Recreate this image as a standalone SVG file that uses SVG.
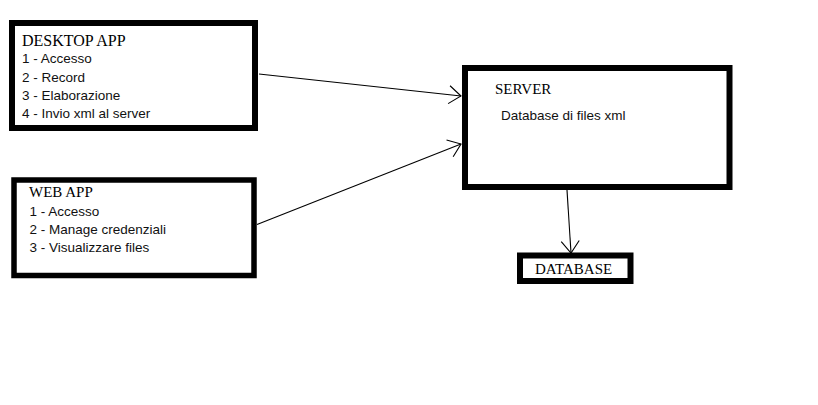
<svg xmlns="http://www.w3.org/2000/svg" width="818" height="405" viewBox="0 0 818 405">
<style>
.box{fill:#fff;stroke:#000;stroke-width:6}
.title{font-family:"Liberation Serif","Times New Roman",serif;font-size:15px;fill:#000}
.item{font-family:"Liberation Sans",Arial,sans-serif;font-size:13.5px;fill:#111}
.conn{stroke:#000;stroke-width:1.1;fill:none}
</style>
<defs>
<marker id="arr" markerUnits="userSpaceOnUse" viewBox="-14 -11 16 22" refX="0" refY="0" markerWidth="16" markerHeight="22" orient="auto">
<path d="M-12,-9 L0,0 L-12,9" fill="none" stroke="#000" stroke-width="1.1"/>
</marker>
</defs>
<rect width="818" height="405" fill="#fff"/>
<g id="connectors">
<line class="conn" x1="259" y1="74" x2="461" y2="96" marker-end="url(#arr)"/>
<line class="conn" x1="257" y1="224.5" x2="461" y2="144" marker-end="url(#arr)"/>
<line class="conn" x1="567" y1="190" x2="571" y2="253" marker-end="url(#arr)"/>
</g>
<g id="desktop-app">
<rect class="box" x="12" y="23" width="243" height="105"/>
<text class="title" x="22" y="46" style="font-size:16px">DESKTOP APP</text>
<text class="item" x="22" y="63">1 - Accesso</text>
<text class="item" x="22" y="81.5">2 - Record</text>
<text class="item" x="22" y="99.5">3 - Elaborazione</text>
<text class="item" x="22" y="117.5">4 - Invio xml al server</text>
</g>
<g id="web-app">
<rect class="box" x="14" y="180" width="240" height="95.5" style="stroke-width:5.5"/>
<text class="title" x="29" y="197">WEB APP</text>
<text class="item" x="29.5" y="216">1 - Accesso</text>
<text class="item" x="29.5" y="234">2 - Manage credenziali</text>
<text class="item" x="29.5" y="252">3 - Visualizzare files</text>
</g>
<g id="server">
<rect class="box" x="465" y="68" width="264.5" height="119"/>
<text class="title" x="495" y="94">SERVER</text>
<text class="item" x="501" y="120">Database di files xml</text>
</g>
<g id="database">
<rect class="box" x="520" y="255.5" width="110.5" height="25.5"/>
<text class="title" x="535" y="274">DATABASE</text>
</g>
</svg>
